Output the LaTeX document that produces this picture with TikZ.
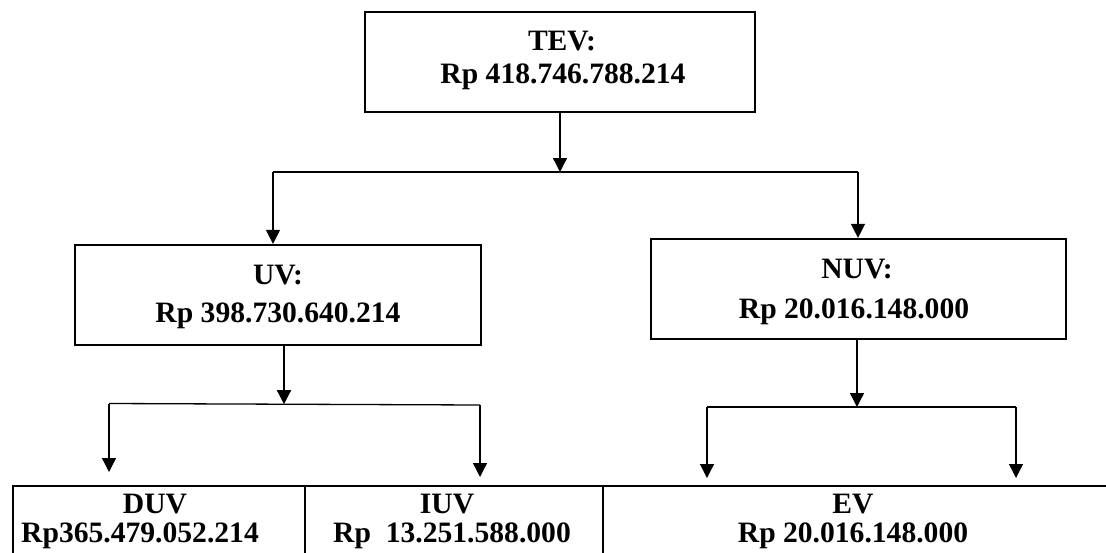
\documentclass[tikz,border=0pt]{standalone}
\usepackage{fontspec}
\setmainfont{Liberation Serif}
\usetikzlibrary{arrows.meta}
\begin{document}
\begin{tikzpicture}[x=1pt,y=-1pt,
  box/.style={draw, line width=2.2pt, inner sep=0pt},
  cell/.style={draw, line width=1.6pt, inner sep=0pt, anchor=north west, minimum height=140pt},
  txt/.style={anchor=base, inner sep=0pt, font=\fontsize{29.6}{33}\selectfont\bfseries},
  conn/.style={line width=1.3pt},
  arr/.style={conn, -{Triangle[length=14pt,width=14pt]}}]
\useasboundingbox (0,0) rectangle (1106,552);
\clip (0,0) rectangle (1106,552);
\fill[white] (0,0) rectangle (1106,552);

% boxes
\node[box, minimum width=390pt, minimum height=100pt] (tev) at (560,62) {};
\node[box, minimum width=406pt, minimum height=100pt] (uv) at (278,295) {};
\node[box, minimum width=415pt, minimum height=100pt] (nuv) at (858.5,289) {};

% box texts
\node[txt] (tevA) at (562,50) {TEV:};
\node[txt] (tevB) at (563,83) {Rp 418.746.788.214};
\node[txt] (uvA) at (278,284) {UV:};
\node[txt] (uvB) at (278,322) {Rp 398.730.640.214};
\node[txt] (nuvA) at (857,278) {NUV:};
\node[txt] (nuvB) at (854,318) {Rp 20.016.148.000};

% table cells
\node[cell, minimum width=292pt] (duv) at (12,485) {};
\node[cell, minimum width=298pt] (iuv) at (304,485) {};
\node[cell, minimum width=540pt] (ev) at (602,485) {};

\node[txt] (duvA) at (155,513) {DUV};
\node[txt] (duvB) at (140,542) {Rp365.479.052.214};
\node[txt] (iuvA) at (447,513) {IUV};
\node[txt] (iuvB) at (452,542) {Rp~ 13.251.588.000};
\node[txt] (evA) at (853,513) {EV};
\node[txt] (evB) at (853,542) {Rp 20.016.148.000};

% level 1 connectors
\coordinate (j1) at (560,172);
\coordinate (l1) at (273,172);
\coordinate (r1) at (858,172);
\draw[arr] (tev.south) -- (j1);
\draw[conn] (l1) -- (r1);
\draw[arr] (l1) -- (l1 |- uv.north);
\draw[arr] (r1) -- (r1 |- nuv.north);

% UV connectors
\coordinate (j2) at (284,404.2);
\coordinate (l2) at (109,403.5);
\coordinate (r2) at (480,405);
\coordinate (dl) at (109,472);
\coordinate (dr) at (480,477);
\draw[arr] (uv.south -| j2) -- (j2);
\draw[conn] (l2) -- (r2);
\draw[arr] (l2) -- (dl);
\draw[arr] (r2) -- (dr);

% NUV connectors
\coordinate (j3) at (857,407);
\coordinate (l3) at (707,407);
\coordinate (r3) at (1016,407);
\coordinate (el) at (707,478);
\coordinate (er) at (1016,478);
\draw[arr] (nuv.south -| j3) -- (j3);
\draw[conn] (l3) -- (r3);
\draw[arr] (l3) -- (el);
\draw[arr] (r3) -- (er);
\end{tikzpicture}
\end{document}
